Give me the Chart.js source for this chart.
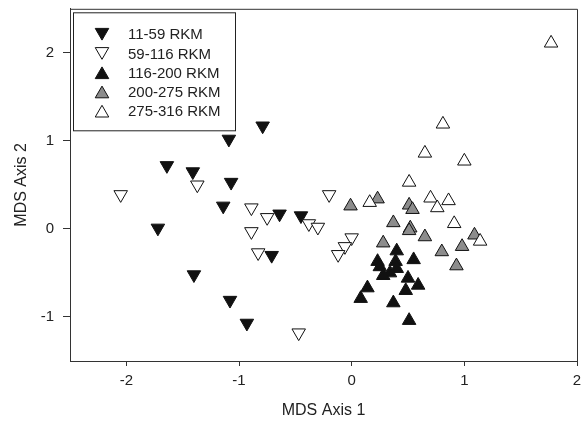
<!DOCTYPE html>
<html>
<head>
<meta charset="utf-8">
<script src="https://cdn.jsdelivr.net/npm/chart.js@4"></script>
<style>
  html, body { margin: 0; padding: 0; background: #fff; }
</style>
</head>
<body>
<canvas id="chart" width="587" height="422"></canvas>
<script>
// MDS ordination, grouped by river km
const groupNames = ["11-59 RKM", "59-116 RKM", "116-200 RKM", "200-275 RKM", "275-316 RKM"];

const rkm11X = [-0.79, -1.09, -1.64, -1.41, -1.07, -1.14, -1.72, -1.40, -1.08, -0.93, -0.64, -0.45, -0.71];
const rkm11Y = [1.17, 1.02, 0.72, 0.65, 0.53, 0.26, 0.01, -0.52, -0.81, -1.07, 0.17, 0.15, -0.30];

const rkm59X = [-2.05, -1.37, -0.89, -0.89, -0.83, -0.75, -0.20, -0.38, -0.30, 0.00, -0.06, -0.12, -0.47];
const rkm59Y = [0.39, 0.50, 0.24, -0.03, -0.27, 0.13, 0.39, 0.06, 0.02, -0.10, -0.20, -0.29, -1.18];

const rkm116X = [0.40, 0.23, 0.39, 0.55, 0.25, 0.34, 0.40, 0.28, 0.50, 0.59, 0.48, 0.14, 0.08, 0.37, 0.51];
const rkm116Y = [-0.25, -0.37, -0.37, -0.35, -0.43, -0.50, -0.45, -0.53, -0.56, -0.64, -0.70, -0.67, -0.79, -0.84, -1.04];

const rkm200X = [-0.01, 0.23, 0.51, 0.54, 0.37, 0.52, 0.51, 0.65, 0.28, 0.80, 0.98, 1.09, 0.93];
const rkm200Y = [0.26, 0.34, 0.27, 0.22, 0.07, 0.01, -0.02, -0.09, -0.16, -0.26, -0.20, -0.07, -0.42];

const rkm275X = [0.81, 0.65, 1.00, 0.51, 0.16, 0.70, 0.86, 0.76, 0.91, 1.14, 1.77];
const rkm275Y = [1.19, 0.86, 0.77, 0.53, 0.30, 0.35, 0.32, 0.24, 0.06, -0.14, 2.11];

const xTicks = [-2, -1, 0, 1, 2];
const yTicks = [-1, 0, 1, 2];

const FONT = "'Liberation Sans', Arial, sans-serif";
const INK = "#222";

const toPoints = (xs, ys) => xs.map((x, i) => ({ x: x, y: ys[i] }));

// marker look per group: fill, rotated (down) or not
const markers = [
  { fill: "#111", rot: 180 },
  { fill: "#fff", rot: 180 },
  { fill: "#111", rot: 0 },
  { fill: "#8c8c8c", rot: 0 },
  { fill: "#fff", rot: 0 },
];
const R = 7.8;

const groups = [
  toPoints(rkm11X, rkm11Y),
  toPoints(rkm59X, rkm59Y),
  toPoints(rkm116X, rkm116Y),
  toPoints(rkm200X, rkm200Y),
  toPoints(rkm275X, rkm275Y),
];

const datasets = groups.map((pts, i) => ({
  label: groupNames[i],
  data: pts,
  pointStyle: "triangle",
  rotation: markers[i].rot,
  pointRadius: R,
  pointHoverRadius: R,
  backgroundColor: markers[i].fill,
  borderColor: "#111",
  borderWidth: 1,
  order: groups.length - i, // later groups drawn on top
}));

// box around plot + legend box in the upper-left corner
const framePlugin = {
  id: "frame",
  afterDatasetsDraw(chart) {
    const { ctx, chartArea: a } = chart;
    ctx.save();
    ctx.strokeStyle = "#333";
    ctx.lineWidth = 1;
    ctx.beginPath();
    ctx.moveTo(a.left, a.top + 0.5);
    ctx.lineTo(a.right + 0.5, a.top + 0.5);
    ctx.lineTo(a.right + 0.5, a.bottom);
    ctx.stroke();

    // legend
    const bx = a.left + 3, by = a.top + 3.5, bw = 162, bh = 118;
    ctx.fillStyle = "#fff";
    ctx.fillRect(bx, by, bw, bh);
    ctx.strokeStyle = "#222";
    ctx.strokeRect(bx + 0.5, by + 0.5, bw, bh);
    ctx.font = "15px " + FONT;
    ctx.textBaseline = "middle";
    ctx.textAlign = "left";
    groupNames.forEach((name, i) => {
      const y = by + 22 + i * 19.2;
      const m = markers[i];
      ctx.fillStyle = m.fill;
      ctx.strokeStyle = "#111";
      ctx.lineWidth = 1;
      Chart.helpers.drawPoint(ctx, { pointStyle: "triangle", rotation: m.rot, radius: R, borderWidth: 1 },
        bx + 29, y + (m.rot ? -2 : 2));
      ctx.fillStyle = INK;
      ctx.fillText(name, bx + 55, y + 1);
    });
    ctx.restore();
  },
};

new Chart(document.getElementById("chart"), {
  type: "scatter",
  data: { datasets },
  options: {
    responsive: false,
    animation: false,
    events: [],
    layout: { padding: { top: 6, right: 10, left: 0, bottom: 0 } },
    plugins: { legend: { display: false }, tooltip: { enabled: false } },
    scales: {
      x: {
        type: "linear",
        min: -2.5,
        max: 2,
        afterBuildTicks: (s) => { s.ticks = xTicks.map((v) => ({ value: v })); },
        afterFit: (s) => { s.height = 61; s.paddingLeft = 0; s.paddingRight = 0; },
        border: { color: "#333", width: 1 },
        grid: { drawOnChartArea: false, drawTicks: true, tickLength: 5, color: "#333" },
        ticks: { color: INK, font: { family: FONT, size: 15 }, padding: 6, maxRotation: 0 },
        title: { display: true, text: "MDS Axis 1", color: INK, font: { family: FONT, size: 16 }, padding: { top: 0, bottom: 2 } },
      },
      y: {
        type: "linear",
        min: -1.5,
        max: 2.5,
        afterBuildTicks: (s) => { s.ticks = yTicks.map((v) => ({ value: v })); },
        afterFit: (s) => { s.width = 70; s.paddingTop = 0; s.paddingBottom = 0; },
        border: { color: "#333", width: 1 },
        grid: { drawOnChartArea: false, drawTicks: true, tickLength: 7, color: "#333" },
        ticks: { color: INK, font: { family: FONT, size: 15 }, padding: 9 },
        title: { display: true, text: "MDS Axis 2", color: INK, font: { family: FONT, size: 16 }, padding: { top: 12, bottom: 0 } },
      },
    },
  },
  plugins: [framePlugin],
});
</script>
</body>
</html>
